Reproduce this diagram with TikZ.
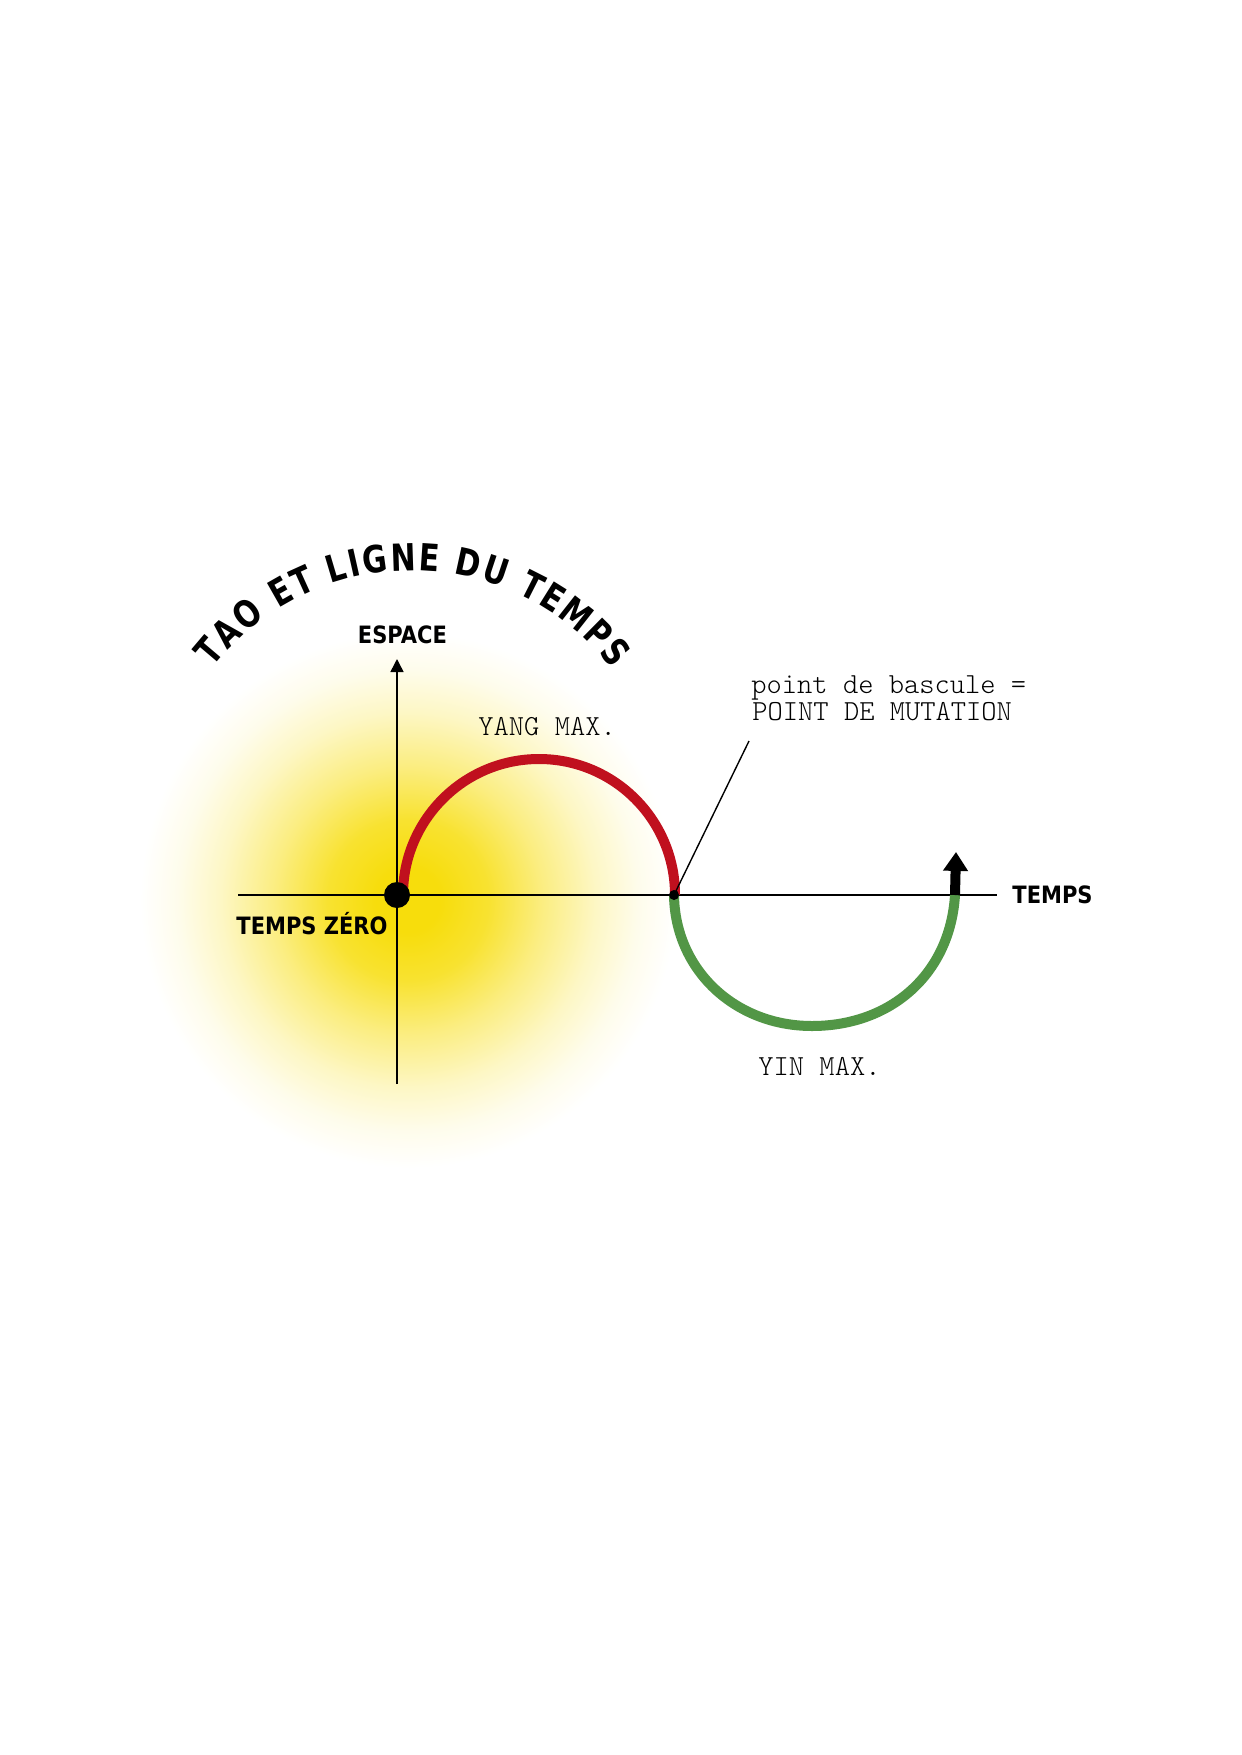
\documentclass[tikz,border=0pt]{standalone}
\usepackage{fontspec}
\usetikzlibrary{arrows.meta,decorations.text}
\newfontfamily\labfont{DejaVu Sans}[FakeStretch=0.88]
\newfontfamily\titfont{DejaVu Sans}[FakeStretch=0.8]
\definecolor{sun}{RGB}{247,221,12}
\definecolor{yangred}{RGB}{192,16,30}
\definecolor{yingreen}{RGB}{82,150,70}
\pgfdeclareradialshading{glow}{\pgfpoint{0bp}{0bp}}{color(0bp)=(sun); color(3bp)=(sun); color(7.5bp)=(sun!85!white); color(12.5bp)=(sun!52!white); color(17.5bp)=(sun!24!white); color(21.5bp)=(sun!8!white); color(25bp)=(white); color(50bp)=(white)}
\begin{document}
\begin{tikzpicture}[x=0.16922mm, y=-0.16922mm,
  axis/.style={line width=0.254mm, black},
  leader/.style={line width=0.237mm, black},
  yangcurve/.style={line width=1.692mm, draw=yangred},
  yincurve/.style={line width=1.692mm, draw=yingreen},
  bigdot/.style={circle, fill=black, inner sep=0pt, minimum size=4.4mm},
  smalldot/.style={circle, fill=black, inner sep=0pt, minimum size=1.692mm},
  boldlab/.style={font=\labfont\bfseries\fontsize{11.5}{13}\selectfont, inner sep=0pt},
  monolab/.style={font=\fontseries{l}\ttfamily\fontsize{14}{16}\selectfont, inner sep=0pt}]
\useasboundingbox (0,0) rectangle (1241,1755);
% glow
\shade[shading=glow] (408,900) circle[radius=268];
% coordinates
\coordinate (O) at (397,895);
\coordinate (vbot) at (397,1084);
\coordinate (vtop) at (397,659);
\coordinate (hl) at (238,895);
\coordinate (hr) at (997,895);
\coordinate (M) at (674,895);
\coordinate (E) at (955,895);
\coordinate (tip) at (956,852);
\coordinate (lead) at (749,741);
% axes
\draw[axis] (hl) -- (hr);
\draw[axis, -{Triangle[width=2.2mm,length=2.2mm]}] (vbot) -- (vtop);
% curves
\draw[yangcurve] (403,895) arc[start angle=180, end angle=360, radius=136];
\draw[yincurve] (M) .. controls (675,970) and (735,1026) .. (812,1026)
                    .. controls (890,1026) and (950,975) .. (E);
\draw[line width=1.692mm, -{Triangle[width=4.06mm,length=3.2mm]}] (E) -- (tip);
% leader and dots
\draw[leader] (M) -- (lead);
\node[bigdot] (zero) at (O) {};
\node[smalldot] (mut) at (M) {};
% labels
\node[boldlab, anchor=base] (espace) at (402.5,643) {ESPACE};
\node[boldlab, anchor=base] (tz) at (312,934) {TEMPS ZÉRO};
\node[boldlab, anchor=base] (temps) at (1052.5,903) {TEMPS};
\node[monolab, anchor=base west] (lyang) at (478,735) {YANG MAX.};
\node[monolab, anchor=base west] (lyin) at (758,1075) {YIN MAX.};
\node[monolab, anchor=base west] (pb) at (751,693) {point de bascule =};
\node[monolab, anchor=base west] (pm) at (752,720) {POINT DE MUTATION};
% title on arc
\path[decorate, decoration={text along path,
   text={|\titfont\bfseries\fontsize{18}{20}\selectfont|TAO ET LIGNE DU TEMPS},
   text align={fit to path}}]
   (412,823) ++(-142:252.5) arc[start angle=-142, end angle=-37.5, radius=252.5];
\end{tikzpicture}
\end{document}
